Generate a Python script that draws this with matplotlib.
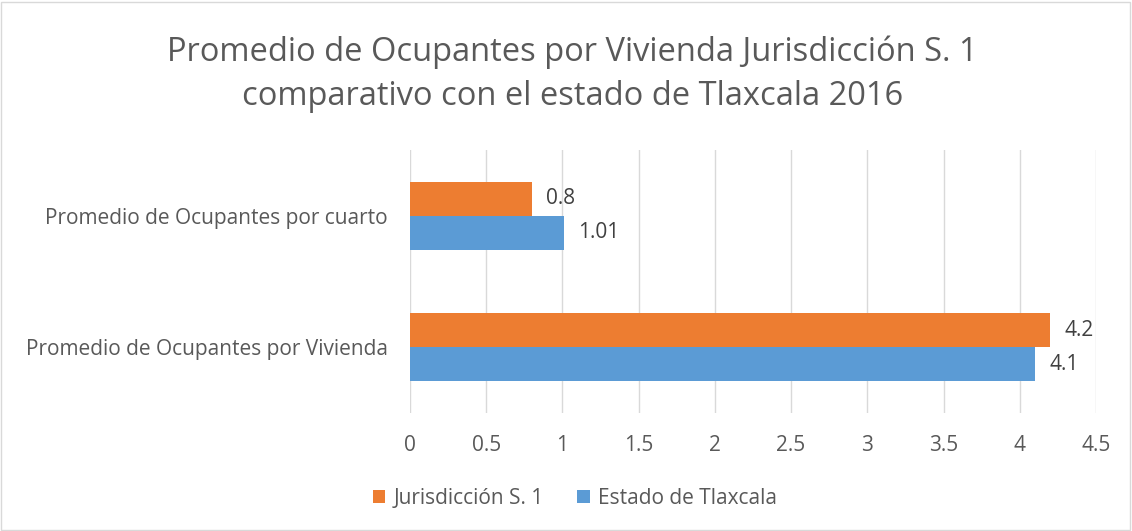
import matplotlib
matplotlib.use("Agg")
import matplotlib.pyplot as plt
from matplotlib.patches import Rectangle
import numpy as np

plt.rcParams['font.family'] = ['Open Sans', 'DejaVu Sans']

categories = ["Promedio de Ocupantes por cuarto", "Promedio de Ocupantes por Vivienda"]
series_names = ["Jurisdicción S. 1", "Estado de Tlaxcala"]
jurisdiccion = [0.8, 4.2]
estado = [1.01, 4.1]
jur_labels = ["0.8", "4.2"]
est_labels = ["1.01", "4.1"]
xticks = [0, 0.5, 1, 1.5, 2, 2.5, 3, 3.5, 4, 4.5]
xtick_labels = ["0", "0.5", "1", "1.5", "2", "2.5", "3", "3.5", "4", "4.5"]

orange = "#ED7D31"
blue = "#5B9BD5"
txt = "#595959"

fig = plt.figure(figsize=(11.32, 5.31), dpi=100)
fig.patches.append(Rectangle((0.001, 0.002), 0.997, 0.995, transform=fig.transFigure,
                             fill=False, edgecolor="#D9D9D9", linewidth=1.0))
ax = fig.add_axes([410/1132, 1-413/531, 686/1132, 263/531])

y = np.array([1, 0])  # top category first
h = 0.2585
ax.barh(y + h/2, jurisdiccion, height=h, color=orange, label=series_names[0], zorder=3)
ax.barh(y - h/2, estado, height=h, color=blue, label=series_names[1], zorder=3)

for yi, v, lab in zip(y, jurisdiccion, jur_labels):
    ax.text(v + 0.095, yi + h/2, lab, va="center", ha="left", fontsize=15, color="#404040")
for yi, v, lab in zip(y, estado, est_labels):
    ax.text(v + 0.095, yi - h/2, lab, va="center", ha="left", fontsize=15, color="#404040")

ax.set_xlim(0, 4.5)
ax.set_ylim(-0.5, 1.5)
ax.set_xticks(xticks)
ax.set_xticklabels(xtick_labels, fontsize=15, color=txt)
ax.set_yticks(y)
ax.set_yticklabels(categories, fontsize=15, color=txt)
ax.tick_params(axis="both", length=0)
ax.tick_params(axis="x", pad=16)
ax.tick_params(axis="y", pad=16)
ax.xaxis.grid(True, color="#D9D9D9", linewidth=1.0, zorder=0)
for s in ax.spines.values():
    s.set_visible(False)

fig.text(0.506, 0.86, "Promedio de Ocupantes por Vivienda Jurisdicción S. 1\ncomparativo con el estado de Tlaxcala 2016",
         ha="center", va="center", fontsize=23.5, color=txt, linespacing=1.45)

leg = fig.legend(loc="center", bbox_to_anchor=(0.508, 0.061), ncol=2, frameon=False,
                 fontsize=15, handlelength=0.6, handleheight=0.6, handletextpad=0.4,
                 columnspacing=1.6)
for t in leg.get_texts():
    t.set_color(txt)

fig.savefig("out.png", dpi=100)
